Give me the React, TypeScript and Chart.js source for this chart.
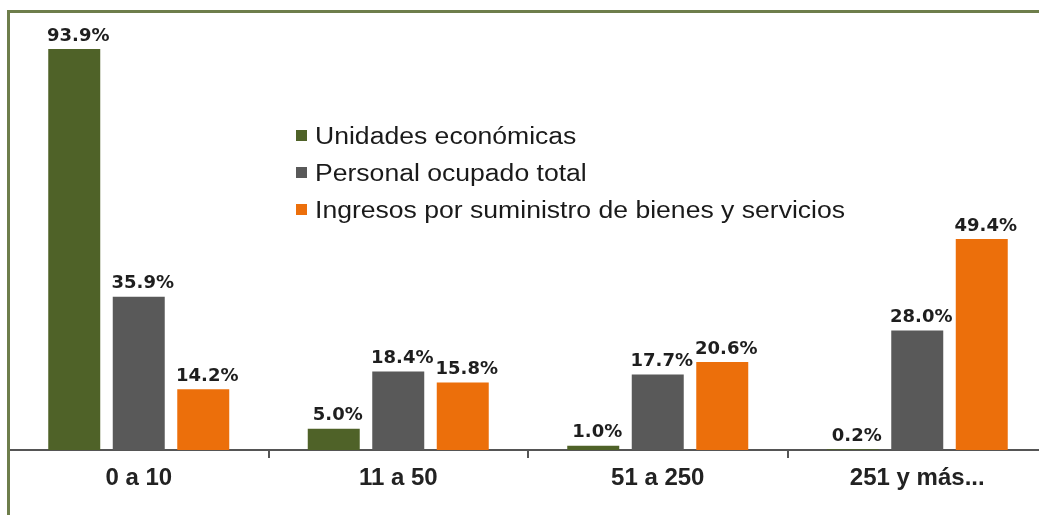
import { useEffect, useRef } from "react";
import { Chart, registerables } from "chart.js";

Chart.register(...registerables);

const categories = ["0 a 10", "11 a 50", "51 a 250", "251 y más..."];
const unidades = [93.9, 5.0, 1.0, 0.2];
const personal = [35.9, 18.4, 17.7, 28.0];
const ingresos = [14.2, 15.8, 20.6, 49.4];
const seriesNames = [
  "Unidades económicas",
  "Personal ocupado total",
  "Ingresos por suministro de bienes y servicios",
];
const seriesColors = ["#4F6228", "#595959", "#EC6F0B"];

const W = 1060;
const H = 560;

const labelPlugin = {
  id: "valueLabels",
  afterDatasetsDraw(chart: any) {
    const ctx = chart.ctx;
    ctx.save();
    ctx.font = "bold 18px 'DejaVu Sans'";
    ctx.fillStyle = "#1E1E1E";
    ctx.textAlign = "center";
    ctx.textBaseline = "bottom";
    chart.data.datasets.forEach((ds: any, i: number) => {
      const meta = chart.getDatasetMeta(i);
      meta.data.forEach((bar: any, j: number) => {
        const v = ds.data[j] as number;
        ctx.fillText(v.toFixed(1) + "%", bar.x + 4, bar.y - 4);
      });
    });
    ctx.restore();
  },
};

const legendPlugin = {
  id: "innerLegend",
  afterDraw(chart: any) {
    const ctx = chart.ctx;
    ctx.save();
    const x0 = 296;
    const baselines = [144, 181, 218];
    chart.data.datasets.forEach((ds: any, i: number) => {
      const b = baselines[i];
      ctx.fillStyle = ds.backgroundColor;
      ctx.fillRect(x0, b - 14, 11, 11);
      ctx.save();
      ctx.translate(315, b);
      ctx.scale(1.155, 1);
      ctx.font = "23px 'Liberation Sans', Arial";
      ctx.fillStyle = "#1A1A1A";
      ctx.textAlign = "left";
      ctx.textBaseline = "alphabetic";
      ctx.fillText(ds.label, 0, 0);
      ctx.restore();
    });
    ctx.restore();
  },
};

const framePlugin = {
  id: "frame",
  afterDraw(chart: any) {
    const ctx = chart.ctx;
    ctx.save();
    ctx.strokeStyle = "#6E7E4B";
    ctx.lineWidth = 3;
    ctx.beginPath();
    ctx.moveTo(8.5, H);
    ctx.lineTo(8.5, 11.5);
    ctx.lineTo(W, 11.5);
    ctx.stroke();
    ctx.restore();
  },
};

export default function App() {
  const ref = useRef<HTMLCanvasElement | null>(null);

  useEffect(() => {
    if (!ref.current) return;
    const chart = new Chart(ref.current, {
      type: "bar",
      data: {
        labels: categories,
        datasets: [unidades, personal, ingresos].map((d, i) => ({
          label: seriesNames[i],
          data: d,
          backgroundColor: seriesColors[i],
          borderWidth: 0,
          categoryPercentage: 0.7457,
          barPercentage: 0.806,
        })),
      },
      options: {
        animation: false,
        responsive: false,
        devicePixelRatio: 1,
        layout: { padding: { left: 9, right: 13, top: 13, bottom: 50 } },
        plugins: {
          legend: { display: false },
          tooltip: { enabled: false },
          title: { display: false },
        },
        scales: {
          x: {
            grid: {
              display: true,
              drawOnChartArea: false,
              drawTicks: true,
              tickLength: 8,
              color: "#555555",
              lineWidth: 2,
            },
            border: { display: true, color: "#555555", width: 2 },
            ticks: {
              padding: 6,
              color: "#222222",
              font: { family: "'Liberation Sans', Arial", size: 24, weight: "bold" },
              maxRotation: 0,
              autoSkip: false,
            },
            afterFit: (scale: any) => {
              scale.height = 60;
            },
          },
          y: {
            display: false,
            min: 0,
            max: 102.34,
          },
        },
      },
      plugins: [labelPlugin, legendPlugin, framePlugin],
    });
    return () => chart.destroy();
  }, []);

  return (
    <div
      style={{
        position: "fixed",
        left: 0,
        top: 0,
        width: 1039,
        height: 515,
        overflow: "hidden",
        background: "#FFFFFF",
      }}
    >
      <canvas
        ref={ref}
        width={W}
        height={H}
        style={{ position: "absolute", left: 0, top: 0, width: W, height: H, display: "block" }}
      />
    </div>
  );
}
